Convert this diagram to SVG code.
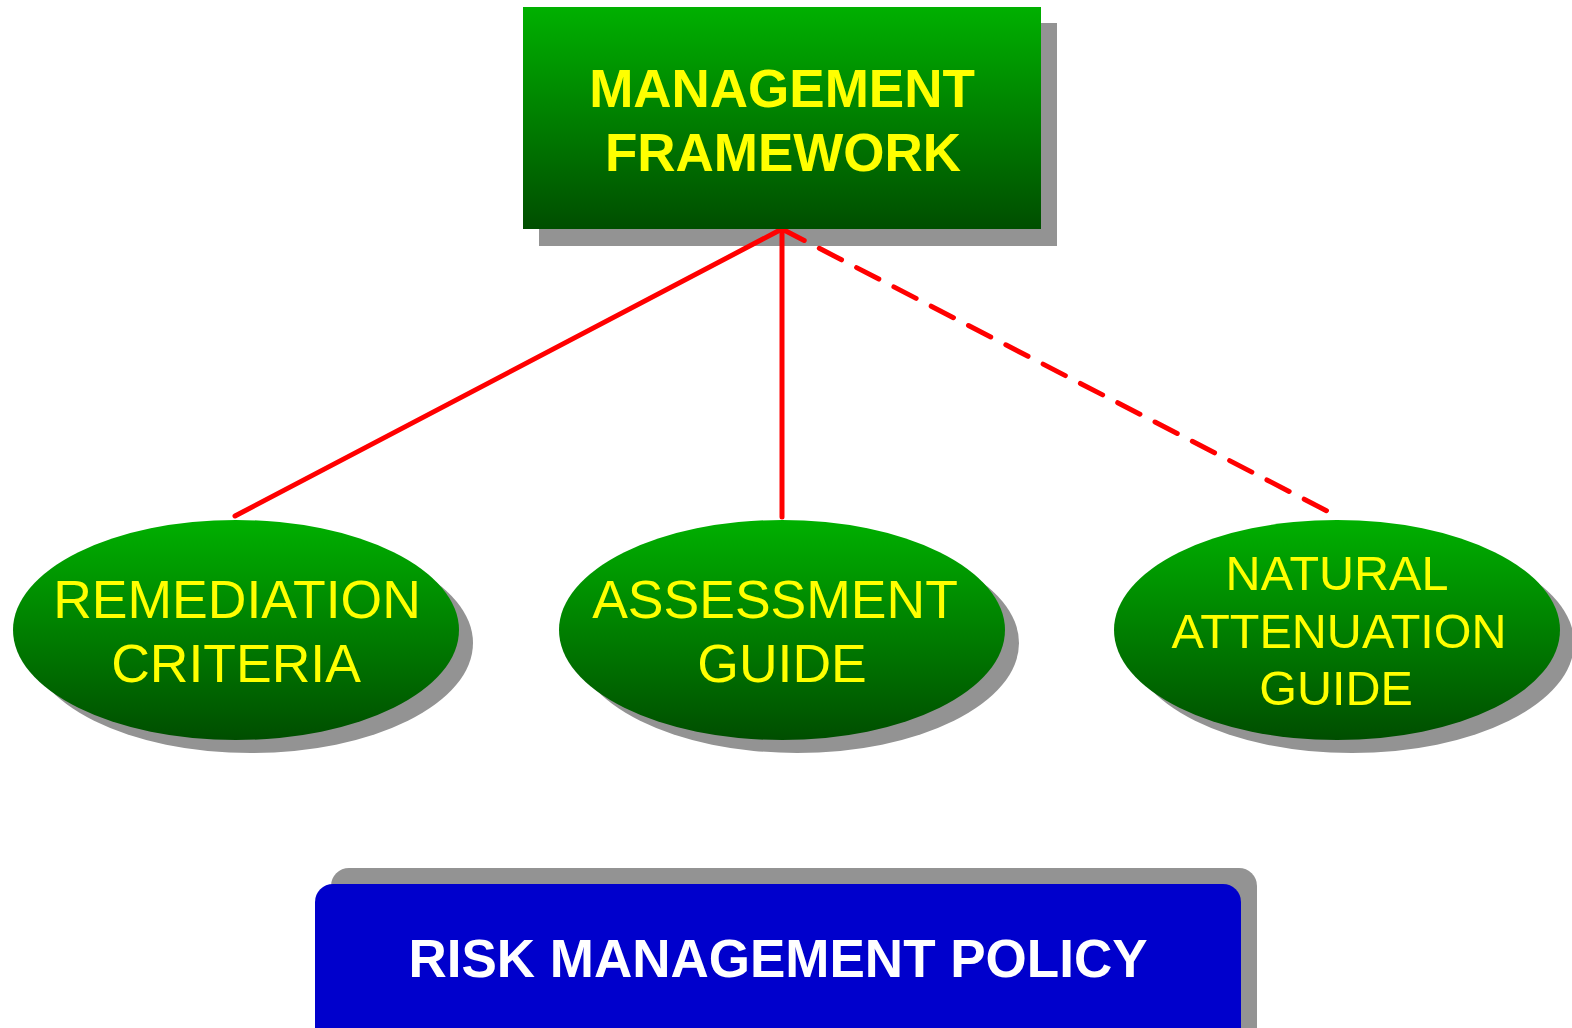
<svg xmlns="http://www.w3.org/2000/svg" width="1572" height="1028" viewBox="0 0 1572 1028">
  <defs>
    <linearGradient id="green" x1="0" y1="0" x2="0" y2="1">
      <stop offset="0" stop-color="#00b000"/>
      <stop offset="1" stop-color="#004e00"/>
    </linearGradient>
    <style>
      .shadow { fill: #939393; }
      .node { fill: url(#green); }
      .blue { fill: #0000cc; }
      .link { stroke: #ff0000; stroke-width: 5; fill: none; stroke-linecap: round; }
      .dash { stroke-dasharray: 25 17; }
      .title { font-family: "Liberation Sans", Arial, sans-serif; font-weight: bold; font-size: 53px; fill: #ffff00; text-anchor: middle; }
      .label { font-family: "Liberation Sans", Arial, sans-serif; font-size: 53.5px; fill: #ffff00; text-anchor: middle; }
      .label3 { font-family: "Liberation Sans", Arial, sans-serif; font-size: 48.5px; fill: #ffff00; text-anchor: middle; }
      .policy { font-family: "Liberation Sans", Arial, sans-serif; font-weight: bold; font-size: 53px; fill: #ffffff; text-anchor: middle; }
    </style>
  </defs>

  <rect width="1572" height="1028" fill="#ffffff"/>

  <!-- top box shadow -->
  <rect class="shadow" x="539" y="23" width="518" height="223"/>

  <!-- connectors -->
  <g id="connectors">
    <line class="link" x1="782" y1="229" x2="235" y2="516"/>
    <line class="link" x1="782" y1="229" x2="782" y2="517"/>
    <line class="link dash" x1="782" y1="229" x2="1327" y2="511"/>
  </g>

  <g id="management-framework">
    <rect class="node" x="523" y="7" width="518" height="222"/>
    <text class="title" x="782" y="107">MANAGEMENT</text>
    <text class="title" x="783" y="171">FRAMEWORK</text>
  </g>

  <g id="remediation-criteria">
    <ellipse class="shadow" cx="251" cy="643" rx="222" ry="110"/>
    <ellipse class="node" cx="236" cy="630" rx="223" ry="110"/>
    <text class="label" x="237" y="618">REMEDIATION</text>
    <text class="label" x="236" y="682">CRITERIA</text>
  </g>

  <g id="assessment-guide">
    <ellipse class="shadow" cx="797" cy="643" rx="222" ry="110"/>
    <ellipse class="node" cx="782" cy="630" rx="223" ry="110"/>
    <text class="label" x="775" y="618">ASSESSMENT</text>
    <text class="label" x="782" y="682">GUIDE</text>
  </g>

  <g id="natural-attenuation-guide">
    <ellipse class="shadow" cx="1352" cy="643" rx="222" ry="110"/>
    <ellipse class="node" cx="1337" cy="630" rx="223" ry="110"/>
    <text class="label3" x="1337" y="590">NATURAL</text>
    <text class="label3" x="1339" y="648">ATTENUATION</text>
    <text class="label3" x="1336" y="705">GUIDE</text>
  </g>

  <g id="risk-management-policy">
    <rect class="shadow" x="331" y="868" width="926" height="180" rx="18"/>
    <rect class="blue" x="315" y="884" width="926" height="170" rx="18"/>
    <text class="policy" x="778" y="977">RISK MANAGEMENT POLICY</text>
  </g>
</svg>
